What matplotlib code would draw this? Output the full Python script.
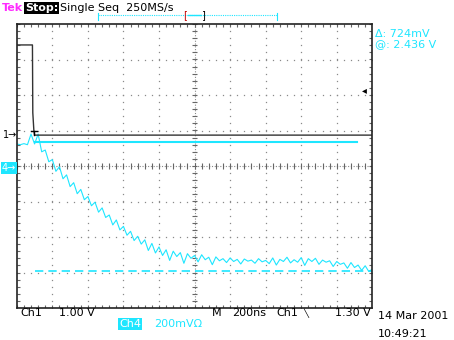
import numpy as np
import matplotlib.pyplot as plt
from matplotlib.lines import Line2D

# screen units: time in ns (200 ns/div), vertical in divisions
time_ns = np.arange(0, 2001, 20)

ch4_div = [0.62, 0.60, 0.63, 0.60, 0.90, 0.62, 0.90, 0.40, 0.45, 0.12,
           0.18, -0.15, -0.02, -0.36, -0.25, -0.58, -0.47, -0.78, -0.66, -0.95,
           -0.86, -1.12, -1.02, -1.30, -1.18, -1.45, -1.38, -1.66, -1.52, -1.80,
           -1.70, -1.95, -1.84, -2.10, -1.98, -2.20, -2.08, -2.38, -2.18, -2.45,
           -2.28, -2.52, -2.36, -2.66, -2.40, -2.55, -2.44, -2.74, -2.47, -2.60,
           -2.52, -2.70, -2.50, -2.64, -2.57, -2.78, -2.56, -2.67, -2.61, -2.72,
           -2.59, -2.69, -2.63, -2.76, -2.62, -2.68, -2.65, -2.74, -2.61, -2.70,
           -2.66, -2.75, -2.59, -2.79, -2.63, -2.69, -2.57, -2.73, -2.64, -2.71,
           -2.58, -2.80, -2.61, -2.69, -2.60, -2.77, -2.65, -2.71, -2.67, -2.83,
           -2.69, -2.77, -2.73, -2.88, -2.72, -2.86, -2.79, -2.94, -2.81, -2.97,
           -2.91]

ch1_t = [0, 88, 90, 96, 100, 2000]
ch1_div = [3.41, 3.41, 1.5, 1.0, 0.87, 0.87]

cursor_a = 0.676      # solid cursor
cursor_b = -2.96      # dashed cursor
cursor_t = [101, 1913]

CYAN = '#1ee6ff'
GRID = '#8a8a8a'
W, H = 454, 340

fig = plt.figure(figsize=(W / 100, H / 100), dpi=100)
fig.patch.set_facecolor('white')
ax = fig.add_axes([16.8 / W, (H - 308) / H, 355.5 / W, 284 / H])
ax.set_xlim(0, 2000)
ax.set_ylim(-4, 4)
ax.set_xticks([])
ax.set_yticks([])
for s in ax.spines.values():
    s.set_color('#222222')
    s.set_linewidth(1.2)

# graticule dots
ys = np.arange(-4, 4.01, 0.2)
xs = np.arange(0, 2001, 40)
for gx in range(200, 2000, 200):
    if gx == 1000:
        continue
    ax.plot([gx] * len(ys), ys, ls='none', marker='s', ms=0.9, color=GRID, mew=0)
for gy in range(-3, 4):
    if gy == 0:
        continue
    ax.plot(xs, [gy] * len(xs), ls='none', marker='s', ms=0.9, color=GRID, mew=0)

# centre cross with ticks
ax.plot([0, 2000], [0, 0], color=GRID, lw=0.8, ls=(0, (1, 1.5)))
ax.plot([1000, 1000], [-4, 4], color=GRID, lw=0.8, ls=(0, (1, 1.5)))
ax.vlines(xs, -0.08, 0.08, color='#666666', lw=0.8)
ax.hlines(ys, 1000 - 16, 1000 + 16, color='#666666', lw=0.8)
# edge ticks
ax.vlines(xs, 4 - 0.08, 4, color='#666666', lw=0.8)
ax.vlines(xs, -4, -4 + 0.08, color='#666666', lw=0.8)
ax.hlines(ys, 0, 16, color='#666666', lw=0.8)
ax.hlines(ys, 2000 - 16, 2000, color='#666666', lw=0.8)

# cursors
ax.plot(cursor_t, [cursor_a, cursor_a], color=CYAN, lw=1.5)
ax.plot([cursor_t[0], 2000], [cursor_b, cursor_b], color=CYAN, lw=1.2, ls=(0, (5, 3)))

# traces
ax.plot(time_ns, ch4_div, color=CYAN, lw=0.8)
ax.plot(ch1_t, ch1_div, color='#333333', lw=1.0)
ax.plot([95, 95], [0.87, 1.0], color='black', lw=1.0)
ax.plot([80, 112], [1.0, 1.0], color='black', lw=1.0)


def txt(x, y, s, **kw):
    kw.setdefault('fontsize', 8)
    kw.setdefault('color', 'black')
    fig.text(x / W, 1 - y / H, s, va='center', ha='left', family='DejaVu Sans', **kw)


def fline(xp, yp, **kw):
    fig.add_artist(Line2D([x / W for x in xp], [1 - y / H for y in yp],
                          transform=fig.transFigure, **kw))


txt(2, 8, 'Tek', color='#ff2bff', weight='bold')
txt(25, 8, 'Stop:', color='white', weight='bold',
    bbox=dict(facecolor='black', edgecolor='none', pad=0.6))
txt(60, 8, 'Single Seq  250MS/s')

# record position bar
fline([98, 277], [15, 15], color=CYAN, lw=0.8, ls=(0, (1, 1)))
fline([98, 98], [13, 20], color=CYAN, lw=0.8)
fline([277, 277], [13, 20], color=CYAN, lw=0.8)
fline([188, 201], [15, 15], color=CYAN, lw=1.0)
txt(183, 15, '[', color='#c00000', fontsize=7)
txt(201, 15, ']', color='black', fontsize=7)

txt(375, 34, '\u0394: 724mV', color=CYAN)
txt(375, 44, '@: 2.436 V', color=CYAN)
txt(362, 90, '\u25c2', fontsize=7)

txt(3, 135, '1\u2192', fontsize=7)
txt(2, 168, '4\u2192', color='white', fontsize=7,
    bbox=dict(facecolor=CYAN, edgecolor='none', pad=0.8))

txt(20, 313, 'Ch1')
txt(59, 313, '1.00 V')
txt(212, 313, 'M')
txt(232, 313, '200ns')
txt(276, 313, 'Ch1')
txt(303, 313, '\u2572', fontsize=6)
txt(335, 313, '1.30 V')
txt(119, 324, 'Ch4', color='white',
    bbox=dict(facecolor=CYAN, edgecolor='none', pad=0.6))
txt(154, 324, '200mV\u03a9', color=CYAN)
txt(378, 316, '14 Mar 2001')
txt(378, 334, '10:49:21')

fig.savefig('out.png', dpi=100, facecolor='white')
